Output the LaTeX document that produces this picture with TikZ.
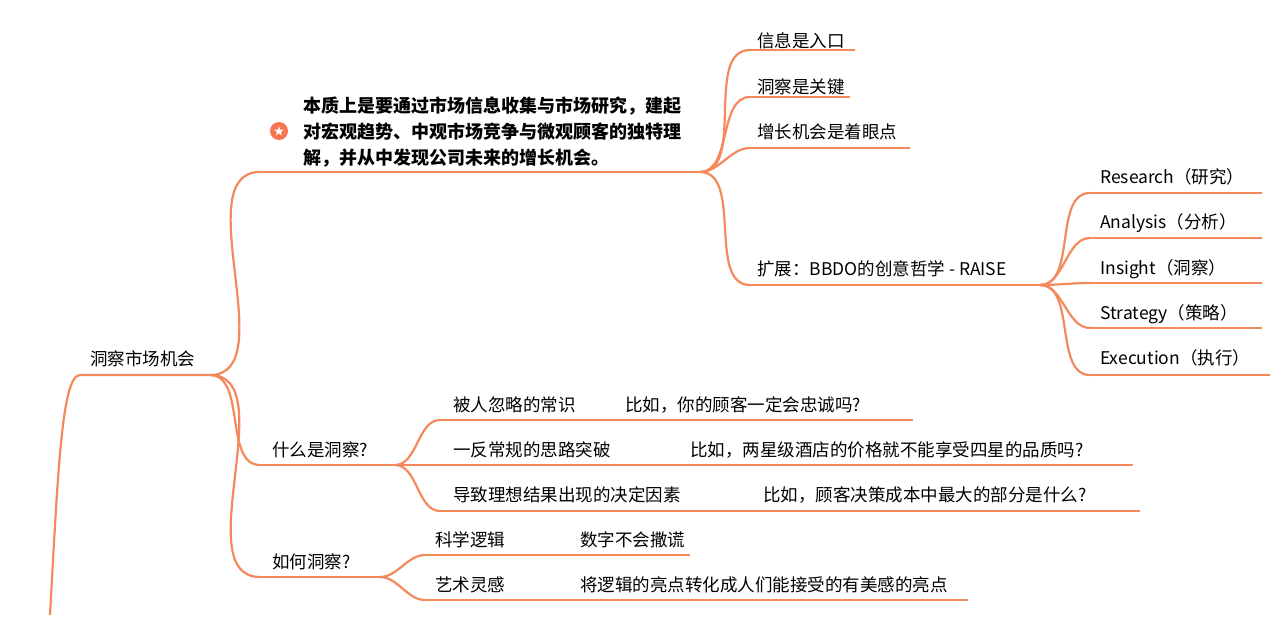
\documentclass[tikz,border=0pt]{standalone}
\usepackage{fontspec}
\setmainfont{Noto Sans CJK SC}
\definecolor{br}{HTML}{F4895C}
\begin{document}
\begin{tikzpicture}[x=1pt,y=-1pt,
  ln/.style={draw=br,line width=2.2pt},
  lb/.style={anchor=base west,font=\fontsize{17.5}{19}\selectfont,inner sep=0pt}]
\useasboundingbox[fill=white] (0,0) rectangle (1280,640);
\def\cv#1#2{\draw[ln] (#1) to[out=0,in=180,looseness=0.9] (#2);}
% coordinates
\coordinate (r0) at (50,615); \coordinate (r1) at (80,375); \coordinate (r2) at (210,375);
\coordinate (a0) at (260,172); \coordinate (a1) at (700,172);
\coordinate (b10) at (750,50); \coordinate (b11) at (855,50);
\coordinate (b20) at (750,97); \coordinate (b21) at (850,97);
\coordinate (b30) at (750,148); \coordinate (b31) at (910,148);
\coordinate (b40) at (750,285); \coordinate (b41) at (1040,285);
\coordinate (c10) at (1090,193); \coordinate (c11) at (1262,193);
\coordinate (c20) at (1090,238); \coordinate (c21) at (1262,238);
\coordinate (c30) at (1090,283); \coordinate (c31) at (1262,283);
\coordinate (c40) at (1090,328); \coordinate (c41) at (1262,328);
\coordinate (c50) at (1090,375); \coordinate (c51) at (1270,375);
\coordinate (d0) at (260,465); \coordinate (d1) at (395,465);
\coordinate (e10) at (440,420); \coordinate (e11) at (913,420);
\coordinate (e20) at (440,465); \coordinate (e21) at (1133,465);
\coordinate (e30) at (440,511); \coordinate (e31) at (1140,511);
\coordinate (f0) at (260,577); \coordinate (f1) at (380,577);
\coordinate (g10) at (425,555); \coordinate (g11) at (690,555);
\coordinate (g20) at (425,600); \coordinate (g21) at (968,600);
% lines
\draw[ln] (r0) .. controls (58,470) and (62,375) .. (r1) -- (r2);
\cv{r2}{a0} \draw[ln] (a0) -- (a1);
\cv{r2}{d0} \draw[ln] (d0) -- (d1);
\cv{r2}{f0} \draw[ln] (f0) -- (f1);
\foreach \i in {1,2,3,4}{\cv{a1}{b\i0} \draw[ln] (b\i0) -- (b\i1);}
\foreach \i in {1,2,3,4,5}{\cv{b41}{c\i0} \draw[ln] (c\i0) -- (c\i1);}
\foreach \i in {1,2,3}{\cv{d1}{e\i0} \draw[ln] (e\i0) -- (e\i1);}
\foreach \i in {1,2}{\cv{f1}{g\i0} \draw[ln] (g\i0) -- (g\i1);}
% labels
\node[lb] (t0) at (90,365) {洞察市场机会};
\node[lb,font=\fontsize{18}{19}\selectfont\bfseries] (t1) at (303,112) {本质上是要通过市场信息收集与市场研究，建起};
\node[lb,font=\fontsize{18}{19}\selectfont\bfseries] (t2) at (303,138) {对宏观趋势、中观市场竞争与微观顾客的独特理};
\node[lb,font=\fontsize{18}{19}\selectfont\bfseries] (t3) at (303,164) {解，并从中发现公司未来的增长机会。};
\node[circle,fill=br!85!red,minimum size=18pt,inner sep=0pt,text=white,font=\fontsize{11}{11}\selectfont] (star) at (279,131) {★};
\node[lb] (s1) at (757,47) {信息是入口};
\node[lb] (s2) at (757,93) {洞察是关键};
\node[lb] (s3) at (757,138) {增长机会是着眼点};
\node[lb] (s4) at (757,275) {扩展：BBDO的创意哲学 - RAISE};
\node[lb] (u1) at (1100,183) {Research（研究）};
\node[lb] (u2) at (1100,228) {Analysis（分析）};
\node[lb] (u3) at (1100,274) {Insight（洞察）};
\node[lb] (u4) at (1100,319) {Strategy（策略）};
\node[lb] (u5) at (1100,364) {Execution（执行）};
\node[lb] (w0) at (272,456) {什么是洞察?};
\node[lb] (w1) at (453,411) {被人忽略的常识};
\node[lb] (w1b) at (625,411) {比如，你的顾客一定会忠诚吗?};
\node[lb] (w2) at (453,456) {一反常规的思路突破};
\node[lb] (w2b) at (690,456) {比如，两星级酒店的价格就不能享受四星的品质吗?};
\node[lb] (w3) at (453,501) {导致理想结果出现的决定因素};
\node[lb] (w3b) at (763,501) {比如，顾客决策成本中最大的部分是什么?};
\node[lb] (h0) at (272,568) {如何洞察?};
\node[lb] (h1) at (435,546) {科学逻辑};
\node[lb] (h1b) at (580,546) {数字不会撒谎};
\node[lb] (h2) at (435,591) {艺术灵感};
\node[lb] (h2b) at (580,591) {将逻辑的亮点转化成人们能接受的有美感的亮点};
\end{tikzpicture}
\end{document}
